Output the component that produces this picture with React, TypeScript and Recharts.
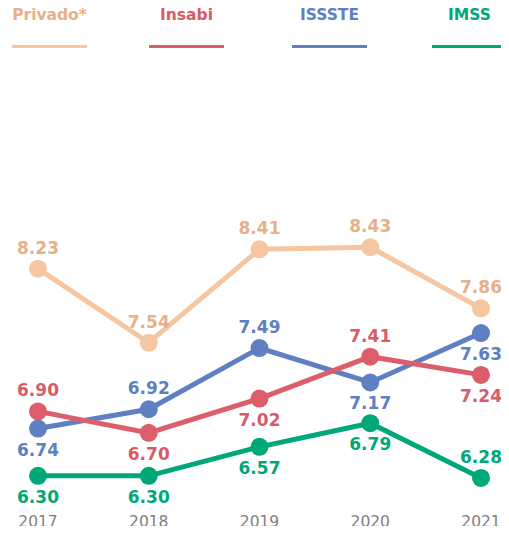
import { CartesianGrid, LabelList, Line, LineChart, XAxis, YAxis } from "recharts";

const years = ["2017", "2018", "2019", "2020", "2021"];
const privado = [8.23, 7.54, 8.41, 8.43, 7.86];
const insabi = [6.9, 6.7, 7.02, 7.41, 7.24];
const issste = [6.74, 6.92, 7.49, 7.17, 7.63];
const imss = [6.3, 6.3, 6.57, 6.79, 6.28];

// where each value label sits relative to its dot
const privadoPos = ["up", "up", "up", "up", "up"];
const insabiPos = ["up", "down", "down", "up", "down"];
const issstePos = ["down", "up", "up", "down", "down"];
const imssPos = ["down", "down", "down", "down", "up"];

const series = [
  { key: "privado", name: "Privado*", color: "#F6C6A1", text: "#E8B089", pos: privadoPos, legendX: 12 },
  { key: "issste", name: "ISSSTE", color: "#5E7FC1", text: "#5E7FC1", pos: issstePos, legendX: 292 },
  { key: "insabi", name: "Insabi", color: "#DB5E6A", text: "#D85B67", pos: insabiPos, legendX: 149 },
  { key: "imss", name: "IMSS", color: "#00A878", text: "#00A878", pos: imssPos, legendX: 432 },
];

const data = years.map((year, i) => ({
  year,
  privado: privado[i],
  insabi: insabi[i],
  issste: issste[i],
  imss: imss[i],
}));

const legendOrder = ["privado", "insabi", "issste", "imss"];
const font = "'DejaVu Sans', sans-serif";

function makeLabel(pos: string[], color: string) {
  return (props: any) => {
    const { x, y, value, index } = props;
    const up = pos[index] === "up";
    return (
      <text
        x={x}
        y={up ? y - 21 : y + 21}
        textAnchor="middle"
        dominantBaseline="central"
        fill={color}
        fontSize={17}
        fontWeight="bold"
        fontFamily={font}
      >
        {Number(value).toFixed(2)}
      </text>
    );
  };
}

export default function App() {
  return (
    <div style={{ position: "relative", width: 509, height: 534, margin: -8 }}>
      <div style={{ position: "absolute", left: 0, top: 0, width: 509, height: 60 }}>
        {legendOrder.map((k) => {
          const s = series.find((d) => d.key === k)!;
          return (
            <div key={k} style={{ position: "absolute", left: s.legendX, top: 0, width: 75 }}>
              <div
                style={{
                  textAlign: "center",
                  color: s.text,
                  fontFamily: font,
                  fontWeight: "bold",
                  fontSize: 15.5,
                  lineHeight: "30px",
                  whiteSpace: "nowrap",
                }}
              >
                {s.name}
              </div>
              <div style={{ position: "absolute", top: 45, left: 0, width: 75, height: 2.5, background: s.color }} />
            </div>
          );
        })}
      </div>
      <LineChart width={509} height={534} data={data} margin={{ top: 186, right: 28, bottom: 0, left: 38 }}>
        <CartesianGrid horizontal={false} vertical={false} />
        <XAxis
          dataKey="year"
          axisLine={false}
          tickLine={false}
          height={26}
          tick={{ fill: "#808080", fontSize: 15.5, fontFamily: font }}
          interval={0}
        />
        <YAxis hide domain={[6, 9]} width={0} />
        {series.map((s) => (
          <Line
            key={s.key}
            dataKey={s.key}
            name={s.name}
            stroke={s.color}
            strokeWidth={5}
            dot={{ r: 9, fill: s.color, stroke: "none" }}
            isAnimationActive={false}
          >
            <LabelList dataKey={s.key} content={makeLabel(s.pos, s.text)} />
          </Line>
        ))}
      </LineChart>
    </div>
  );
}
